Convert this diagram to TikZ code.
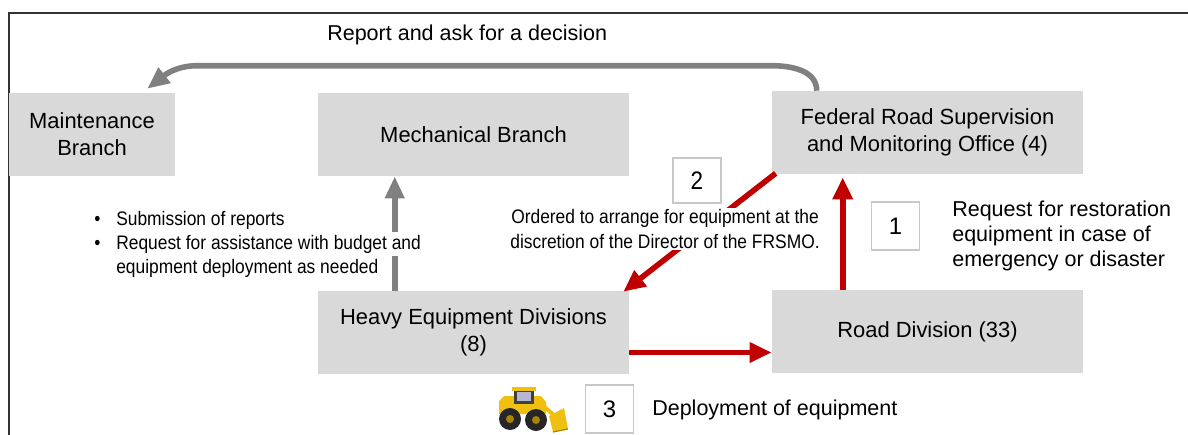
\documentclass[tikz,border=0pt]{standalone}
\usepackage{fontspec}
\setmainfont{Liberation Sans}
\newfontfamily\narrowfont[FakeStretch=0.89]{Liberation Sans}
\usetikzlibrary{arrows, arrows.meta, calc}

\definecolor{boxgray}{HTML}{D9D9D9}
\definecolor{linkgray}{HTML}{808080}
\definecolor{linkred}{HTML}{C00000}
\definecolor{numframe}{HTML}{C8C8C8}
\definecolor{loaderyellow}{HTML}{F0C010}
\definecolor{loaderdark}{HTML}{A88400}

% white strip behind a line of text that crosses an arrow
\newcommand\whiteline[1]{{\setlength\fboxsep{0pt}\colorbox{white}{\strut#1}}}
\newcommand\bulletmark{\makebox[5.5mm][l]{\textbullet}}

\tikzset{
  office/.style={fill=boxgray, draw=none, align=center, inner sep=0pt,
    minimum height=20.75mm, font=\fontsize{15.6}{19.2}\selectfont},
  numbox/.style={fill=white, draw=numframe, line width=0.3mm, minimum width=12mm,
    minimum height=12mm, inner sep=0pt, font=\fontsize{17}{20}\selectfont},
  graylink/.style={linkgray, line width=1.4mm, -{Triangle[length=5.5mm,width=4.6mm]}},
  redlink/.style={linkred, line width=1.4mm, -{Triangle[length=5.5mm,width=4.8mm]}},
  remark/.style={align=left, inner sep=0pt, font=\fontsize{15.3}{17.8}\selectfont},
  narrownote/.style={inner sep=0pt, font=\narrowfont\fontsize{13.9}{17.1}\selectfont},
}

\begin{document}
\begin{tikzpicture}[x=0.25mm,y=-0.25mm]
\useasboundingbox (0,0) rectangle (1188,435);
\draw[black!80, line width=0.4mm] (1188,13) -- (9,13) -- (9,435);

% offices
\node[office, minimum width=41.5mm] (maint) at (92,134.5) {Maintenance\\Branch};
\node[office, minimum width=77.75mm] (mech) at (473.5,134.5) {Mechanical Branch};
\node[office, minimum width=77.75mm] (fed) at (927.5,132.5) {Federal Road Supervision\\and Monitoring Office (4)};
\node[office, minimum width=77.75mm] (heavy) at (473.5,332.5) {Heavy Equipment Divisions\\(8)};
\node[office, minimum width=77.75mm] (road) at (927.5,331.5) {Road Division (33)};

% gray links
\draw[graylink] ($(heavy.north west)+(77,0)$) -- ($(mech.south west)+(77,0)$);
\draw[graylink] ($(fed.north west)+(45,0)$) to[out=90,in=0] ($(fed.north west)+(0,-25)$)
  -- ($(maint.north east)+(22,-27)$) to[out=180,in=38] ($(maint.north east)+(-28,-4)$);

% red links
\draw[redlink] ($(road.north west)+(71,0)$) -- ($(fed.south west)+(71,3)$);
\draw[redlink] ($(fed.south west)+(4,-1)$) -- ($(heavy.north east)+(-6,1)$);
\draw[redlink] ($(heavy.east)+(0,20)$) -- ($(road.west)+(0,21)$);

% notes
\node[remark, anchor=west] (report) at (327,35) {Report and ask for a decision};
\node[remark, anchor=west] (request) at (952,236) {Request for restoration\\equipment in case of\\emergency or disaster};
\node[remark, anchor=west] (deploy) at (652,410) {Deployment of equipment};
\node[narrownote, fill=white, align=center, inner sep=1pt] (order) at (665,229)
  {Ordered to arrange for equipment at the\\discretion of the Director of the FRSMO.};
\node[narrownote, align=left, anchor=west] (notes) at (94,244)
  {\bulletmark Submission of reports\\
   \bulletmark\whiteline{Request for assistance with budget and}\\
   \hspace*{5.5mm}equipment deployment as needed};

% step numbers
\node[numbox] (n1) at (895.5,226) {1};
\node[numbox, minimum height=11.25mm, font=\narrowfont\fontsize{18}{20}\selectfont] (n2) at (697,180.5) {2};
\node[numbox] (n3) at (609.5,409) {3};

% wheel loader
\fill[loaderyellow] (499,401) -- (504,396) -- (541,396) -- (546,402) -- (546,414) -- (499,414) -- cycle;
\fill[black!75] (514,390) rectangle (534,404);
\fill[blue!25!gray!45] (517,392) rectangle (531,401);
\fill[loaderyellow] (512,387) rectangle (536,391);
\draw[loaderyellow, line width=1mm] (540,403) -- (556,417);
\fill[loaderyellow] (549,416) -- (564,408) -- (568,429) -- (553,432) -- cycle;
\draw[loaderdark, line width=0.3mm] (553,432) -- (568,429);
\fill[black!85] (510,419) circle (11);
\fill[black!85] (536,420) circle (11);
\fill[loaderdark] (510,419) circle (4);
\fill[loaderdark] (536,420) circle (4);
\end{tikzpicture}
\end{document}
